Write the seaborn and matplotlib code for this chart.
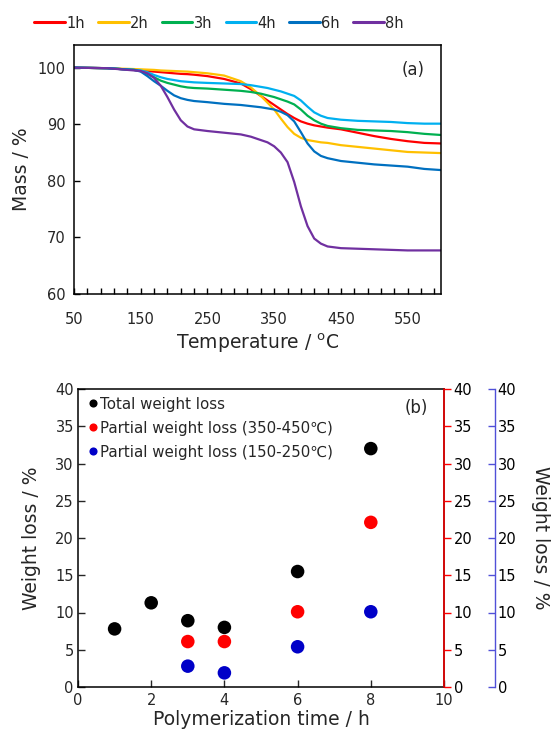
import numpy as np
import pandas as pd
import matplotlib
matplotlib.use("Agg")
import matplotlib.pyplot as plt
import seaborn as sns
from matplotlib.lines import Line2D
from matplotlib.ticker import FixedLocator, MultipleLocator

# ---------------- data (a): TGA curves ----------------
temps = [50, 100, 140, 150, 160, 170, 180, 190, 200, 210, 220, 230, 250, 275, 300, 315, 330, 340,
         350, 360, 370, 380, 390, 400, 410, 420, 430, 450, 475, 500, 525, 550, 575, 600]
mass_1h = [100, 99.9, 99.6, 99.5, 99.4, 99.3, 99.2, 99.1, 99.0, 98.9, 98.85, 98.75, 98.5, 98.0,
           97.2, 96.2, 95.0, 94.2, 93.4, 92.6, 91.8, 91.1, 90.5, 90.1, 89.8, 89.6, 89.4, 89.1,
           88.5, 87.9, 87.4, 87.0, 86.7, 86.6]
mass_2h = [100, 99.9, 99.75, 99.7, 99.65, 99.6, 99.5, 99.45, 99.4, 99.35, 99.3, 99.2, 99.0, 98.6,
           97.6, 96.5, 95.0, 93.8, 92.6, 91.0, 89.5, 88.3, 87.6, 87.2, 87.0, 86.8, 86.7, 86.3,
           86.0, 85.7, 85.4, 85.1, 85.0, 84.9]
mass_3h = [100, 99.9, 99.6, 99.4, 98.9, 98.3, 97.7, 97.3, 97.0, 96.7, 96.5, 96.4, 96.3, 96.1,
           95.9, 95.7, 95.4, 95.1, 94.8, 94.4, 94.0, 93.5, 92.6, 91.5, 90.7, 90.1, 89.7, 89.3,
           89.0, 88.9, 88.8, 88.6, 88.3, 88.1]
mass_4h = [100, 99.9, 99.6, 99.5, 99.2, 98.7, 98.3, 98.0, 97.8, 97.6, 97.5, 97.4, 97.3, 97.2,
           97.1, 96.9, 96.6, 96.4, 96.1, 95.8, 95.4, 95.0, 94.2, 93.1, 92.1, 91.5, 91.1, 90.8,
           90.6, 90.5, 90.4, 90.2, 90.1, 90.1]
mass_6h = [100, 99.9, 99.6, 99.3, 98.5, 97.6, 96.8, 95.9, 95.1, 94.6, 94.3, 94.1, 93.9, 93.6,
           93.4, 93.2, 93.0, 92.8, 92.6, 92.2, 91.6, 90.5, 88.6, 86.6, 85.2, 84.4, 84.0, 83.5,
           83.2, 82.9, 82.7, 82.5, 82.1, 81.9]
mass_8h = [100, 99.9, 99.5, 99.4, 99.0, 98.2, 96.8, 94.8, 92.6, 90.7, 89.6, 89.1, 88.8, 88.5,
           88.2, 87.8, 87.2, 86.8, 86.1, 85.0, 83.3, 79.8, 75.5, 72.0, 69.8, 68.9, 68.4, 68.1,
           68.0, 67.9, 67.8, 67.7, 67.7, 67.7]
series_labels = ["1h", "2h", "3h", "4h", "6h", "8h"]
series_colors = ["#FF0000", "#FFC000", "#00B050", "#00B0F0", "#0070C0", "#7030A0"]

# ---------------- data (b): weight loss ----------------
time_h = [1, 2, 3, 4, 6, 8]
total_loss = [7.8, 11.3, 8.9, 8.0, 15.5, 32.0]
partial_time = [3, 4, 6, 8]
partial_350_450 = [6.1, 6.1, 10.1, 22.1]
partial_150_250 = [2.8, 1.9, 5.4, 10.1]

sns.set_style("ticks")
plt.rcParams['font.family'] = ['DejaVu Sans', 'Noto Sans CJK JP']
plt.rcParams['mathtext.fontset'] = 'dejavusans'

TICK_FS = 10.5
LABEL_FS = 13.5

fig = plt.figure(figsize=(5.59, 7.33), dpi=100)

# ================= panel (a) =================
ax1 = fig.add_axes([74/559, 1-294/733, 367/559, 249/733])
all_series = [mass_1h, mass_2h, mass_3h, mass_4h, mass_6h, mass_8h]
df = pd.concat([pd.DataFrame({"T": temps, "mass": m, "time": lab})
                for m, lab in zip(all_series, series_labels)], ignore_index=True)
sns.lineplot(data=df, x="T", y="mass", hue="time", hue_order=series_labels,
             palette=dict(zip(series_labels, series_colors)), sort=False,
             linewidth=1.6, legend=False, ax=ax1)
ax1.set_xlim(50, 600)
ax1.set_ylim(60, 104)
ax1.xaxis.set_major_locator(FixedLocator([50, 150, 250, 350, 450, 550]))
ax1.xaxis.set_minor_locator(FixedLocator([t for t in range(70, 600, 20) if (t - 50) % 100 != 0]))
ax1.yaxis.set_major_locator(FixedLocator([60, 70, 80, 90, 100]))
ax1.tick_params(axis='both', which='both', direction='in', length=4, width=1,
                labelsize=TICK_FS, color='black')
ax1.tick_params(axis='x', pad=13)
ax1.tick_params(axis='y', pad=6)
for s in ax1.spines.values():
    s.set_linewidth(1.1)
    s.set_color('black')
ax1.set_xlabel("Temperature / $^{\\mathrm{o}}$C", fontsize=LABEL_FS, labelpad=3)
ax1.set_ylabel("Mass / %", fontsize=LABEL_FS, labelpad=5)
ax1.text(0.955, 0.9, "(a)", transform=ax1.transAxes, ha='right', va='center', fontsize=12)

handles = [Line2D([0], [0], color=c, lw=2.2) for c in series_colors]
fig.legend(handles, series_labels, loc='center', bbox_to_anchor=(219/559, 1-23/733),
           ncol=6, frameon=False, fontsize=10.5, handlelength=2.1, handletextpad=0.1,
           columnspacing=0.9, borderaxespad=0)

# ================= panel (b) =================
ax2 = fig.add_axes([78/559, 1-687/733, 366/559, 298/733])
pts = pd.concat([
    pd.DataFrame({"time": time_h, "loss": total_loss, "kind": "Total weight loss"}),
    pd.DataFrame({"time": partial_time, "loss": partial_350_450,
                  "kind": "Partial weight loss (350-450\u2103)"}),
    pd.DataFrame({"time": partial_time, "loss": partial_150_250,
                  "kind": "Partial weight loss (150-250\u2103)"}),
], ignore_index=True)
kinds = ["Total weight loss", "Partial weight loss (350-450\u2103)",
         "Partial weight loss (150-250\u2103)"]
pcolors = ["#000000", "#FF0000", "#0000C8"]
sns.scatterplot(data=pts, x="time", y="loss", hue="kind", hue_order=kinds,
                palette=dict(zip(kinds, pcolors)), s=95, edgecolor='none',
                ax=ax2, zorder=3)
ax2.set_xlim(0, 10)
ax2.set_ylim(0, 40)
ax2.xaxis.set_major_locator(MultipleLocator(2))
ax2.yaxis.set_major_locator(MultipleLocator(5))
ax2.tick_params(axis='both', direction='in', length=5, width=1, labelsize=TICK_FS)
ax2.tick_params(axis='x', pad=4)
ax2.tick_params(axis='y', pad=3)
for s in ax2.spines.values():
    s.set_linewidth(1.1)
    s.set_color('black')
ax2.set_xlabel("Polymerization time / h", fontsize=LABEL_FS, labelpad=2)
ax2.set_ylabel("Weight loss / %", fontsize=LABEL_FS, labelpad=10)
ax2.text(0.955, 0.935, "(b)", transform=ax2.transAxes, ha='right', va='center', fontsize=12)
leg = ax2.legend(loc='upper left', bbox_to_anchor=(0.0, 1.0), frameon=False,
                 fontsize=10.8, markerscale=0.6, handletextpad=0.0, handlelength=1.0,
                 labelspacing=0.6, borderaxespad=0.2, borderpad=0.3)

# red twin axis
ax3 = ax2.twinx()
ax3.set_ylim(0, 40)
ax3.yaxis.set_major_locator(MultipleLocator(5))
ax3.spines['right'].set_color('#FF0000')
ax3.spines['right'].set_linewidth(1.1)
ax3.tick_params(axis='y', direction='out', length=5, width=1, colors='#FF0000',
                labelcolor='black', labelsize=TICK_FS, pad=2)
ax3.spines['top'].set_visible(False)
ax3.spines['left'].set_visible(False)
ax3.spines['bottom'].set_visible(False)

# blue third axis
ax4 = ax2.twinx()
ax4.set_ylim(0, 40)
ax4.yaxis.set_major_locator(MultipleLocator(5))
ax4.spines['right'].set_position(('axes', (495 - 78) / 366))
ax4.spines['right'].set_color('#5050D8')
ax4.spines['right'].set_linewidth(1.0)
ax4.tick_params(axis='y', direction='in', length=5, width=1, colors='#5050D8',
                labelcolor='black', labelsize=TICK_FS, pad=2)
for side in ['top', 'left', 'bottom']:
    ax4.spines[side].set_visible(False)
ax4.set_ylabel("Weight loss / %", fontsize=LABEL_FS, rotation=270, labelpad=24)

fig.savefig("out.png", dpi=100)
